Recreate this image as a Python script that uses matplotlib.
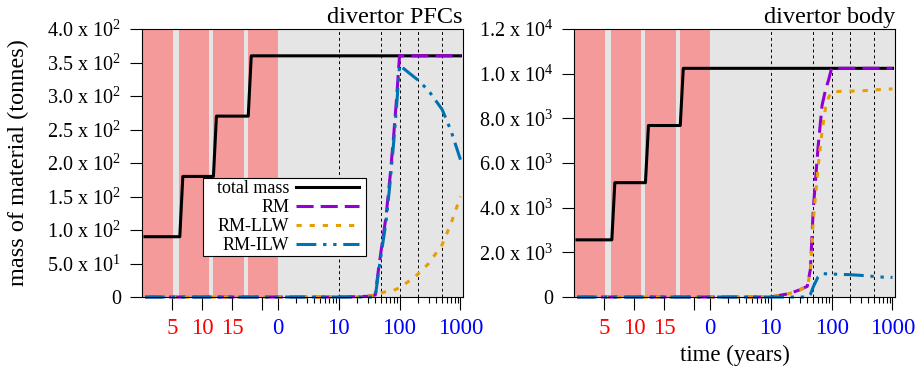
import numpy as np
import matplotlib
matplotlib.use("Agg")
import matplotlib.pyplot as plt
from matplotlib.patches import Rectangle

plt.rcParams["font.family"] = "Liberation Serif"
plt.rcParams["mathtext.fontset"] = "custom"
plt.rcParams["mathtext.rm"] = "Liberation Serif"
plt.rcParams["mathtext.it"] = "Liberation Serif:italic"

# time axis: linear operating years, then log years after shutdown
T_OP = 22.6     # end of operation on the axis
DEC = 10.15     # axis width of one decade after shutdown

# operating periods (years)
op_start = [0.0, 6.2, 11.8, 17.7]
op_end = [5.1, 11.2, 17.0, 22.6]

# total mass during operation
op_time = [0.5, 6.3, 6.8, 11.9, 12.4, 17.7, 18.2, 22.6]
pfc_total_op = [90, 90, 180, 180, 270, 270, 360, 360]
body_total_op = [2560, 2560, 5120, 5120, 7680, 7680, 10240, 10240]
pfc_total_end = 360
body_total_end = 10240

# recyclable material stays at zero while operating
op_zero_time = [0.5, 22.6]
op_zero = [0, 0]

# years after shutdown
decay_t = [1, 2, 5, 10, 20, 30, 40, 45, 50, 60, 70, 80, 90, 100,
           150, 200, 300, 500, 700, 1000]

pfc_rm = [0, 0, 0, 0, 0.5, 1, 3, 40, 70, 120, 180, 240, 300, 360,
          360, 360, 360, 360, 360, 360]
pfc_llw = [0, 0, 0, 0, 0.3, 1, 3, 4, 6, 8, 9, 10, 12, 14,
           25, 34, 50, 78, 110, 150]
pfc_ilw = [0, 0, 0, 0, 0.2, 0, 0, 36, 64, 112, 171, 230, 288, 346,
           333, 324, 308, 280, 248, 205]

body_rm = [0, 0, 0, 0, 150, 320, 480, 1250, 3900, 6700, 8600, 9300, 9750, 10240,
           10240, 10240, 10240, 10240, 10240, 10240]
body_llw = [0, 0, 0, 0, 150, 320, 480, 1150, 3400, 5800, 7450, 8500, 8950, 9190,
            9210, 9220, 9230, 9270, 9300, 9320]
body_ilw = [0, 0, 0, 0, 0, 0, 0, 120, 450, 900, 1050, 1040, 1035, 1030,
            1010, 1000, 970, 920, 890, 880]

op_ticks = [5, 10, 15, 20]
op_tick_labels = ["5", "10", "15", ""]
decay_ticks = [0, 10, 100, 1000]
decay_tick_labels = ["0", "10", "100", "1000"]
decay_minor = [2, 3, 4, 5, 6, 7, 8, 9, 20, 30, 40, 50, 60, 70, 80, 90,
               200, 300, 400, 500, 600, 700, 800, 900]
guide_years = [10, 50, 100, 200, 500]

OP_RED = "#F59A9A"
BG_GREY = "#E5E5E5"
C_RM = "#9400D3"
C_LLW = "#E69F00"
C_ILW = "#0072B2"
LW = 2.2


def fwd(x):
    x = np.asarray(x, dtype=float)
    after = np.maximum(x - T_OP, 1.0)
    return np.where(x <= T_OP, x, T_OP + DEC * np.log10(after))


def inv(u):
    u = np.asarray(u, dtype=float)
    return np.where(u <= T_OP, u, T_OP + 10 ** ((u - T_OP) / DEC))


def sci_label(v):
    if v == 0:
        return "0"
    e = int(np.floor(np.log10(v) + 1e-9))
    return f"{v / 10 ** e:.1f} x 10$^{{{e}}}$"


def draw_panel(ax, total_op, total_end, rm, llw, ilw, ymax, ystep, title):
    ax.set_xscale("function", functions=(fwd, inv))
    ax.set_facecolor(BG_GREY)
    for s, e in zip(op_start, op_end):
        ax.axvspan(s, e, color=OP_RED, lw=0, zorder=1)
    for t in guide_years:
        ax.axvline(T_OP + t, color="black", lw=0.7, ls=(0, (3, 3)), zorder=1.5)

    after = [T_OP + t for t in decay_t]
    tot_x = op_time + [T_OP + 1, T_OP + 1000]
    tot_y = total_op + [total_end, total_end]
    ax.plot(tot_x, tot_y, color="black", lw=LW, label="total mass", zorder=3)
    ax.plot(op_zero_time + after, op_zero + rm, color=C_RM, lw=LW,
            ls=(0, (5.6, 2.3)), label="RM", zorder=4, clip_on=False)
    ax.plot(op_zero_time + after, op_zero + llw, color=C_LLW, lw=LW,
            ls=(0, (1.7, 2.6)), label="RM-LLW", zorder=5, clip_on=False)
    ax.plot(op_zero_time + after, op_zero + ilw, color=C_ILW, lw=LW,
            ls=(0, (6.5, 2.2, 1.1, 2.2, 1.1, 2.2)), label="RM-ILW",
            zorder=6, clip_on=False)

    ax.set_xlim(0, T_OP + 1100)
    ax.set_ylim(0, ymax)

    ticks = op_ticks + [T_OP + t for t in decay_ticks]
    ax.set_xticks(ticks, op_tick_labels + decay_tick_labels)
    ax.set_xticks([T_OP + t for t in decay_minor], minor=True)
    for lab in ax.get_xticklabels()[:len(op_ticks)]:
        lab.set_color("red")
    for lab in ax.get_xticklabels()[len(op_ticks):]:
        lab.set_color("blue")

    yt = np.arange(0, ymax + ystep / 2, ystep)
    ax.set_yticks(yt, [sci_label(v) for v in yt])

    ax.tick_params(axis="both", which="major", direction="out", length=9,
                   width=0.8, top=False, right=False)
    ax.tick_params(axis="x", which="minor", direction="out", length=4,
                   width=0.8, top=False)
    ax.tick_params(axis="x", labelsize=16.5, pad=6)
    ax.tick_params(axis="y", labelsize=14.5, pad=6)
    for sp in ax.spines.values():
        sp.set_linewidth(0.8)
        sp.set_zorder(7)
    ax.set_title(title, loc="right", fontsize=17.5, pad=4)


fig = plt.figure(figsize=(9.19, 3.67), dpi=100)
ax1 = fig.add_axes([0.1545, 0.1907, 0.3493, 0.7302])
ax2 = fig.add_axes([0.6246, 0.1907, 0.3493, 0.7302])

draw_panel(ax1, pfc_total_op, pfc_total_end, pfc_rm, pfc_llw, pfc_ilw,
           400, 50, "divertor PFCs")
draw_panel(ax2, body_total_op, body_total_end, body_rm, body_llw, body_ilw,
           12000, 2000, "divertor body")

ax1.set_ylabel("mass of material (tonnes)", fontsize=17.5)
ax1.yaxis.set_label_coords(-0.352, 0.5)
ax2.set_xlabel("time (years)", fontsize=16.5)
ax2.xaxis.set_label_coords(0.5, -0.178)

# key with labels on the left, line samples on the right
leg = ax1.legend(loc="center", bbox_to_anchor=(0.455, 0.297), markerfirst=False,
                 frameon=False, fontsize=13, handlelength=3.5,
                 handletextpad=0.38, borderpad=0, labelspacing=0.11)
leg.set_zorder(9)
fig.canvas.draw()
renderer = fig.canvas.get_renderer()
bb = leg.get_window_extent(renderer)
x0, y0 = bb.x0 - 14, bb.y0 - 2
x1, y1 = bb.x1 + 7, bb.y1 + 2
to_ax = ax1.transAxes.inverted()
(ax0, ay0), (ax1x, ay1) = to_ax.transform([(x0, y0), (x1, y1)])
ax1.add_patch(Rectangle((ax0, ay0), ax1x - ax0, ay1 - ay0, transform=ax1.transAxes,
                        facecolor="white", edgecolor="black", lw=0.8,
                        zorder=8, clip_on=False))

fig.savefig("out.png", dpi=100)
